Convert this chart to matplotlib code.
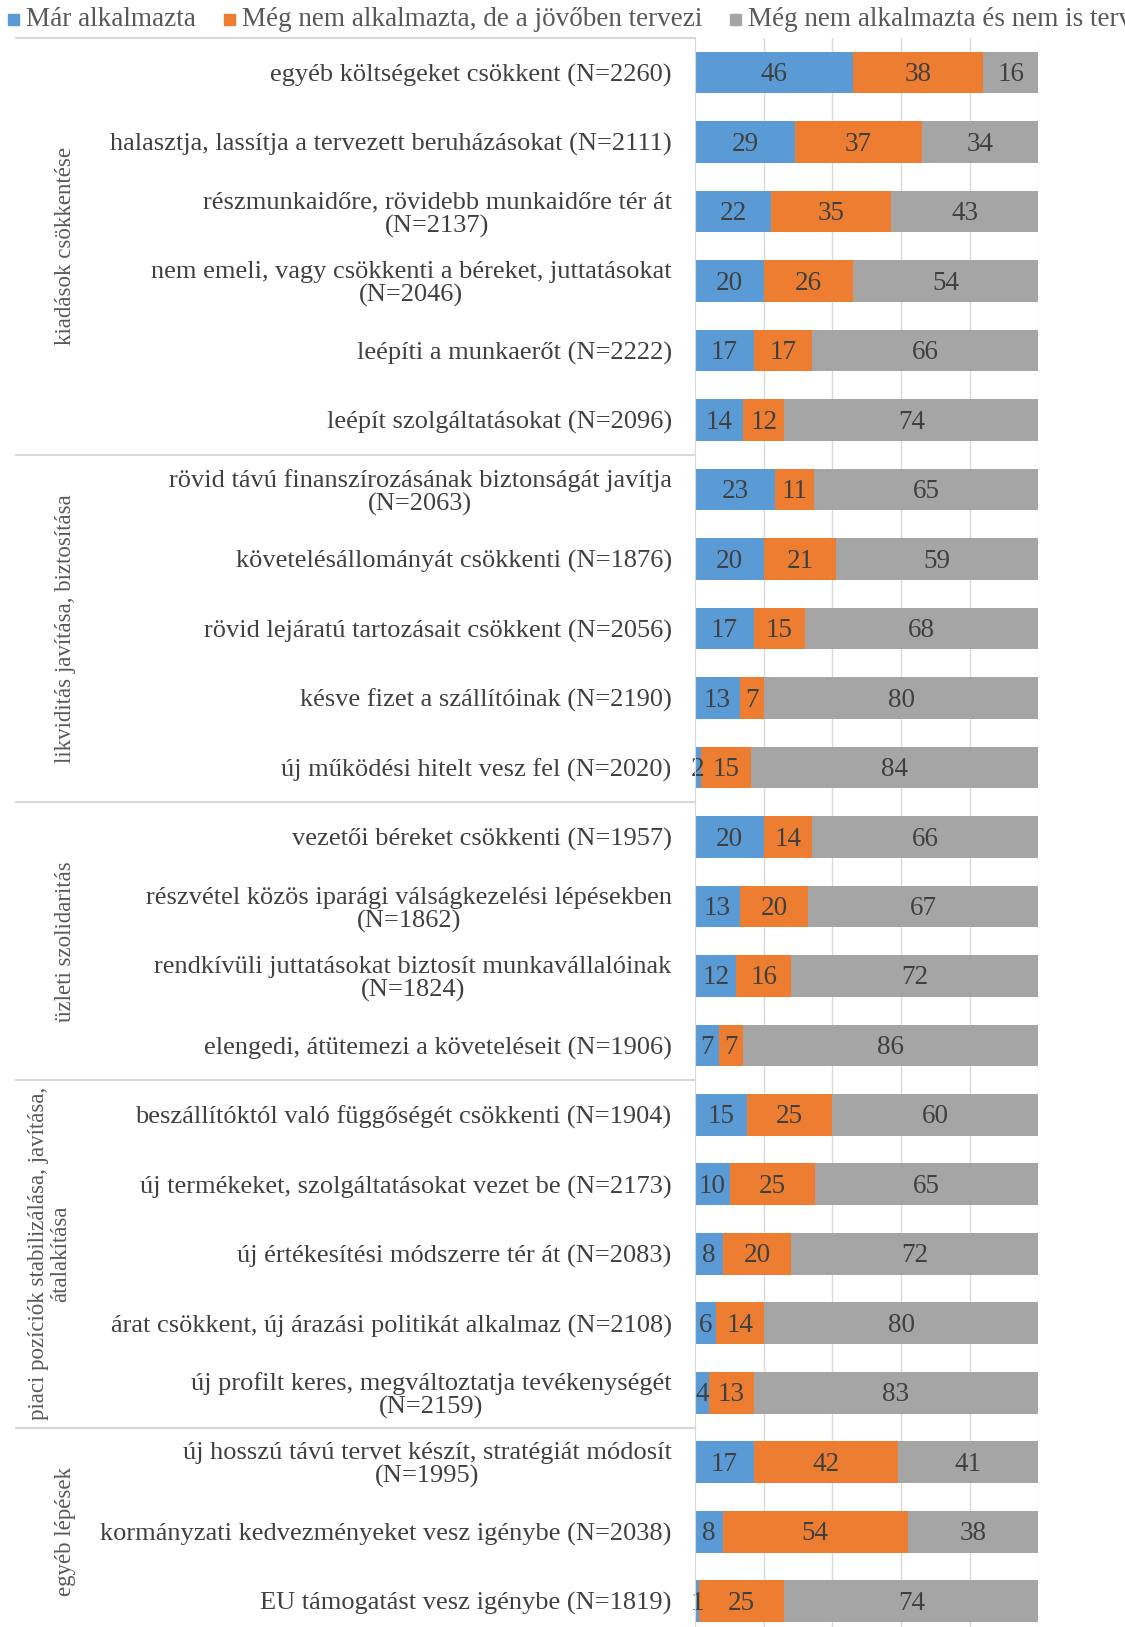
import matplotlib.pyplot as plt
import matplotlib.transforms as mtransforms
from matplotlib.patches import Rectangle

kategoriak = [
    "egyéb költségeket csökkent (N=2260)",
    "halasztja, lassítja a tervezett beruházásokat (N=2111)",
    "részmunkaidőre, rövidebb munkaidőre tér át\n(N=2137)",
    "nem emeli, vagy csökkenti a béreket, juttatásokat\n(N=2046)",
    "leépíti a munkaerőt (N=2222)",
    "leépít szolgáltatásokat (N=2096)",
    "rövid távú finanszírozásának biztonságát javítja\n(N=2063)",
    "követelésállományát csökkenti (N=1876)",
    "rövid lejáratú tartozásait csökkent (N=2056)",
    "késve fizet a szállítóinak (N=2190)",
    "új működési hitelt vesz fel (N=2020)",
    "vezetői béreket csökkenti (N=1957)",
    "részvétel közös iparági válságkezelési lépésekben\n(N=1862)",
    "rendkívüli juttatásokat biztosít munkavállalóinak\n(N=1824)",
    "elengedi, átütemezi a követeléseit (N=1906)",
    "beszállítóktól való függőségét csökkenti (N=1904)",
    "új termékeket, szolgáltatásokat vezet be (N=2173)",
    "új értékesítési módszerre tér át (N=2083)",
    "árat csökkent, új árazási politikát alkalmaz (N=2108)",
    "új profilt keres, megváltoztatja tevékenységét\n(N=2159)",
    "új hosszú távú tervet készít, stratégiát módosít\n(N=1995)",
    "kormányzati kedvezményeket vesz igénybe (N=2038)",
    "EU támogatást vesz igénybe (N=1819)",
]
mar_alkalmazta = [46, 29, 22, 20, 17, 14, 23.2, 20, 17, 13, 1.6, 20, 13, 12, 7, 15, 10, 8, 6, 4, 17, 8, 1]
tervezi = [38, 37, 35, 26, 17, 12, 11.4, 21, 15, 7, 14.6, 14, 20, 16, 7, 25, 25, 20, 14, 13, 42, 54, 25]
nem_tervezi = [16, 34, 43, 54, 66, 74, 65.4, 59, 68, 80, 83.8, 66, 67, 72, 86, 60, 65, 72, 80, 83, 41, 38, 74]

sorozat_nevek = ["Már alkalmazta", "Még nem alkalmazta, de a jövőben tervezi",
                 "Még nem alkalmazta és nem is tervezi"]
csoportok = ["kiadások csökkentése", "likviditás javítása, biztosítása", "üzleti szolidaritás",
             "piaci pozíciók stabilizálása, javítása,\nátalakítása", "egyéb lépések"]
csoport_meret = [6, 5, 4, 5, 3]

szinek = ["#5B9BD5", "#ED7D31", "#A5A5A5"]
plt.rcParams['font.family'] = ['Liberation Serif', 'DejaVu Serif']

fig = plt.figure(figsize=(11.25, 16.27), dpi=100)
ax = fig.add_axes([0.618, -0.0055, 0.3049, 0.9822])

y = list(range(len(kategoriak)))
bal = [0] * len(y)
for ertekek, szin in zip([mar_alkalmazta, tervezi, nem_tervezi], szinek):
    ax.barh(y, ertekek, left=bal, height=0.6, color=szin, zorder=3)
    for i, v in enumerate(ertekek):
        ax.text(bal[i] + v / 2, i + 0.03, f"{v:.0f}", ha='center', va='center',
                fontsize=19.5, color='#404040', zorder=4)
    bal = [b + v for b, v in zip(bal, ertekek)]

ax.set_xlim(0, 100)
ax.set_ylim(len(y) - 0.5, -0.5)
ax.set_yticks(y)
ax.set_yticklabels(kategoriak, fontsize=19, color='#404040', multialignment='center',
                   linespacing=1.05)
ax.tick_params(axis='y', length=0, pad=17)
ax.set_xticks([20, 40, 60, 80, 100])
ax.tick_params(axis='x', length=0, labelbottom=False)
ax.grid(axis='x', color='#D9D9D9', lw=1, zorder=0)
for s in ['top', 'right', 'bottom']:
    ax.spines[s].set_visible(False)
ax.spines['left'].set_color('#D9D9D9')
ax.spines['left'].set_zorder(5)

# csoport elválasztók és feliratok
trans = mtransforms.blended_transform_factory(fig.transFigure, ax.transData)
kezdet = 0
for nev, n in zip(csoportok, csoport_meret):
    ax.plot([0.014, 0.618], [kezdet - 0.5, kezdet - 0.5], transform=trans,
            color='#D9D9D9', lw=1.5, clip_on=False)
    xpos = 0.044 if '\n' in nev else 0.058
    ax.text(xpos, kezdet + (n - 1) / 2, nev, transform=trans, rotation=90,
            ha='center', va='center', fontsize=16.5, color='#595959',
            multialignment='center', linespacing=1.1)
    kezdet += n

# jelmagyarázat
ly = 1 - 19 / 1627
leg_x = [8, 224, 730]
for nev, szin, lx in zip(sorozat_nevek, szinek, leg_x):
    fig.add_artist(Rectangle((lx / 1125, ly - 5.5 / 1627), 11 / 1125, 11 / 1627,
                             transform=fig.transFigure, color=szin))
    fig.text((lx + 18) / 1125, ly, nev, ha='left', va='center', fontsize=19.5,
             color='#595959')

fig.savefig('out.png', dpi=100)
